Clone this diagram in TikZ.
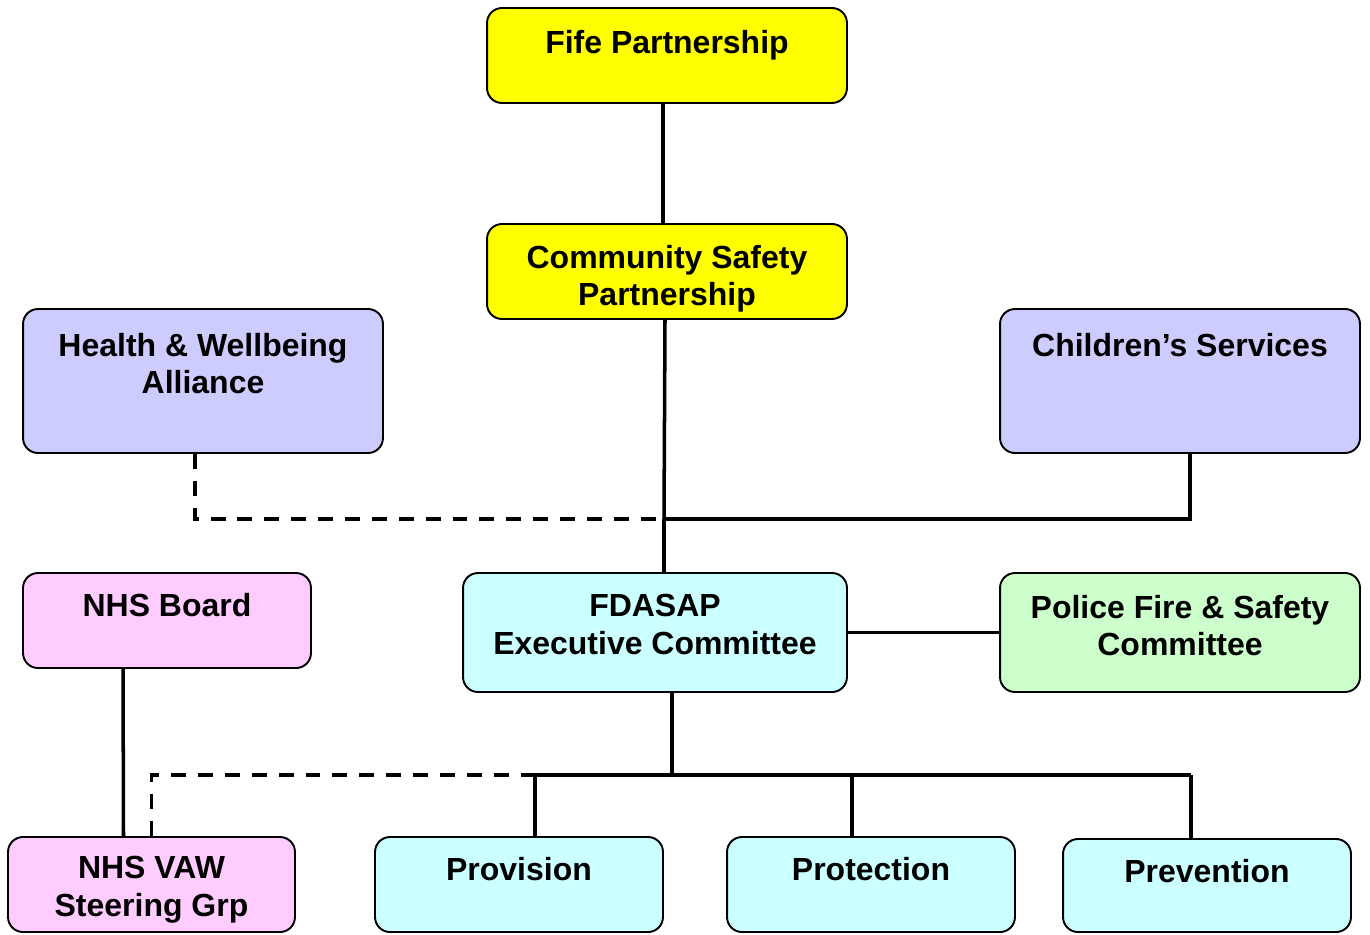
\documentclass[tikz,border=0pt]{standalone}
\usepackage{fontspec}
\setmainfont{Liberation Sans}
\usepackage{tikz}
\usepackage{xcolor}
\usetikzlibrary{positioning}

\begin{document}
\begin{tikzpicture}[x=0.02cm,y=-0.02cm,
  box/.style={draw,line width=1.1pt,rounded corners=8.5pt,inner sep=0pt},
  lbl/.style={font=\fontsize{18.2}{21.3}\selectfont\bfseries,align=center,inner sep=0pt},
  conn/.style={line width=2pt},
  dashconn/.style={line width=2pt,dash pattern=on 8.5pt off 6.8pt}]
% Define colors
\definecolor{partner}{RGB}{255,255,0}
\definecolor{alliance}{RGB}{204,204,255}
\definecolor{health}{RGB}{255,204,255}
\definecolor{exec}{RGB}{204,255,255}
\definecolor{police}{RGB}{204,255,204}

\useasboundingbox (0,0) rectangle (1370,934);

% Draw boxes
\node[box,fill=partner,minimum width=7.2cm,minimum height=1.9cm] (fife) at (667,55.5) {};
\node[box,fill=partner,minimum width=7.2cm,minimum height=1.9cm] (csp) at (667,271.5) {};
\node[box,fill=alliance,minimum width=7.2cm,minimum height=2.88cm] (hwa) at (203,381) {};
\node[box,fill=alliance,minimum width=7.2cm,minimum height=2.88cm] (cserv) at (1180,381) {};
\node[box,fill=health,minimum width=5.76cm,minimum height=1.9cm] (nhsb) at (167,620.5) {};
\node[box,fill=exec,minimum width=7.68cm,minimum height=2.38cm] (fdasap) at (655,632.5) {};
\node[box,fill=police,minimum width=7.2cm,minimum height=2.38cm] (pfs) at (1180,632.5) {};
\node[box,fill=health,minimum width=5.74cm,minimum height=1.9cm] (vaw) at (151.5,884.5) {};
\node[box,fill=exec,minimum width=5.76cm,minimum height=1.9cm] (prov) at (519,884.5) {};
\node[box,fill=exec,minimum width=5.76cm,minimum height=1.9cm] (prot) at (871,884.5) {};
\node[box,fill=exec,minimum width=5.76cm,minimum height=1.86cm] (prev) at (1207,885.5) {};

% Add labels
\node[lbl,below=0.46cm of fife.north] (fifet) {Fife Partnership};
\node[lbl,below=0.44cm of csp.north] (cspt) {Community Safety\\Partnership};
\node[lbl,below=0.50cm of hwa.north] (hwat) {Health \& Wellbeing\\Alliance};
\node[lbl,below=0.50cm of cserv.north] (cservt) {Children’s Services};
\node[lbl,below=0.42cm of nhsb.north] (nhsbt) {NHS Board};
\node[lbl,below=0.44cm of fdasap.north] (fdasapt) {FDASAP\\Executive Committee};
\node[lbl,below=0.46cm of pfs.north] (pfst) {Police Fire \& Safety\\Committee};
\node[lbl,below=0.40cm of vaw.north] (vawt) {NHS VAW\\Steering Grp};
\node[lbl,below=0.42cm of prov.north] (provt) {Provision};
\node[lbl,below=0.42cm of prot.north] (prott) {Protection};
\node[lbl,below=0.42cm of prev.north] (prevt) {Prevention};

% Junction points
\coordinate (jtop) at (664,519);
\coordinate (jexec) at (672,775);
\coordinate (bprov) at (535,775);
\coordinate (bprot) at (852,775);
\coordinate (bprev) at (1191,775);

% Draw connectors
\draw[conn] ([xshift=-0.08cm]fife.south) -- ([xshift=-0.08cm]csp.north);
\draw[conn] ([xshift=-0.04cm]csp.south) -- (jtop) -- (jtop |- fdasap.north);
\draw[dashconn] ([xshift=-0.16cm]hwa.south) |- (jtop);
\draw[conn] (jtop) -| ([xshift=0.2cm]cserv.south);
\draw[conn] (fdasap.east) -- (pfs.west);
\draw[conn] ([xshift=-0.88cm]nhsb.south) -- ([xshift=-0.56cm]vaw.north);
\draw[conn] (jexec |- fdasap.south) -- (jexec);
\draw[dashconn] (vaw.north) |- (bprov);
\draw[conn] (bprov) -- (bprev);
\draw[conn] (bprov) -- (bprov |- prov.north);
\draw[conn] (bprot) -- (bprot |- prot.north);
\draw[conn] (bprev) -- (bprev |- prev.north);
\end{tikzpicture}
\end{document}
